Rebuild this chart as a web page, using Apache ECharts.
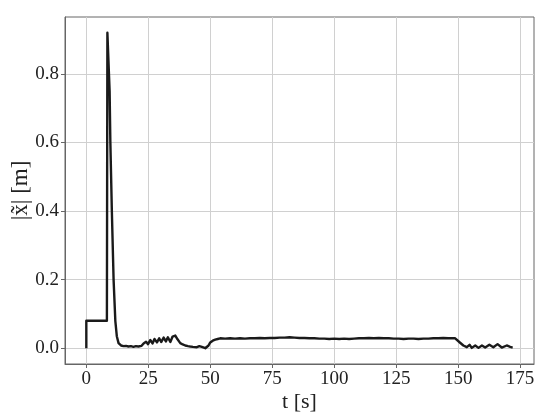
<!DOCTYPE html>
<html>
<head>
<meta charset="utf-8">
<script src="https://cdn.jsdelivr.net/npm/echarts@6/dist/echarts.min.js"></script>
<style>html,body{margin:0;padding:0;background:#fff}#c{width:550px;height:414px}</style>
</head>
<body>
<div id="c"></div>
<script>
const tValues = [0,0,8.3,8.5,9.1,9.4,9.7,10.3,11.0,11.7,12.3,13.0,14.0,15,16,17,18,19,20,21,22.3,
  23.1,24.1,24.9,25.8,26.7,27.5,28.5,29.4,30.2,31.2,32.1,32.9,33.9,34.8,35.9,36.8,37.9,38.9,39.9,41,41.9,43,44.6,45.6,46.6,48,49.3,50,51,52,53,54,
  56,58,60,62,64,66,68,70,72,74,76,78,80,82,84,86,88,90,92,94,96,98,100,102,104,106,108,110,112,114,116,118,120,122,124,126,128,130,132,134,136,138,140,142,144,146,148.8,
  149.4,150.8,152.1,153.5,154.6,155.5,156.9,158.2,159.6,160.9,162.6,164.2,165.9,167.6,169.6,171,172];
const xValues = [0,0.08,0.08,0.92,0.92,0.75,0.6,0.4,0.2,0.08,0.035,0.015,0.008,0.006,0.007,0.005,0.006,0.004,0.006,0.005,0.007,
  0.014,0.019,0.012,0.024,0.014,0.027,0.017,0.029,0.018,0.031,0.02,0.032,0.018,0.034,0.037,0.026,0.015,0.011,0.008,0.006,0.005,0.004,0.003,0.006,0.004,0.0,0.008,0.017,0.022,0.025,0.027,0.029,
  0.028,0.029,0.028,0.029,0.028,0.029,0.029,0.030,0.029,0.030,0.030,0.031,0.031,0.032,0.031,0.030,0.030,0.029,0.029,0.028,0.028,0.027,0.028,0.027,0.028,0.027,0.028,0.029,0.029,0.030,0.029,0.030,0.029,0.029,0.028,0.028,0.027,0.028,0.028,0.027,0.028,0.028,0.029,0.029,0.030,0.029,0.029,
  0.027,0.016,0.008,0.003,0.010,0.001,0.008,0.001,0.008,0.002,0.010,0.003,0.012,0.002,0.008,0.004,0.002];
const xTicks = [0,25,50,75,100,125,150,175];
const yTicks = [0,0.2,0.4,0.6,0.8];

const seriesData = tValues.map((t,i)=>[t,xValues[i]]);
const chart = echarts.init(document.getElementById('c'), null, {renderer:'canvas'});
const FONT = 'Liberation Serif';
chart.setOption({
  animation:false,
  backgroundColor:'#fff',
  grid:{left:65,right:16,top:17,bottom:50,show:true,borderColor:'#666',borderWidth:1,containLabel:false,outerBoundsMode:'none'},
  xAxis:{type:'value',min:-8.6,max:180.6,
    name:'t [s]',nameLocation:'middle',nameGap:27,nameMoveOverlap:false,
    nameTextStyle:{fontFamily:FONT,fontSize:22,color:'#222'},
    axisLine:{show:true,onZero:false,lineStyle:{color:'#666',width:1}},
    axisTick:{show:true,customValues:xTicks,length:4,lineStyle:{color:'#666'}},
    axisLabel:{customValues:xTicks,margin:6,fontFamily:FONT,fontSize:19,color:'#222'},
    splitLine:{show:true,lineStyle:{color:'#d0d0d0',width:1}}},
  yAxis:{type:'value',min:-0.046,max:0.966,
    name:'|x\u0303| [m]',nameLocation:'middle',nameGap:33,nameMoveOverlap:false,
    nameTextStyle:{fontFamily:FONT,fontSize:23,color:'#222'},
    axisLine:{show:true,onZero:false,lineStyle:{color:'#666',width:1}},
    axisTick:{show:true,customValues:yTicks,length:4,lineStyle:{color:'#666'}},
    axisLabel:{customValues:yTicks,margin:6,fontFamily:FONT,fontSize:19,color:'#222',formatter:v=>v.toFixed(1)},
    splitLine:{show:true,lineStyle:{color:'#d0d0d0',width:1}}},
  series:[{type:'line',data:seriesData,showSymbol:false,symbol:'none',
    lineStyle:{color:'#1a1a1a',width:2.4,join:'round'}}]
});
</script>
</body>
</html>
